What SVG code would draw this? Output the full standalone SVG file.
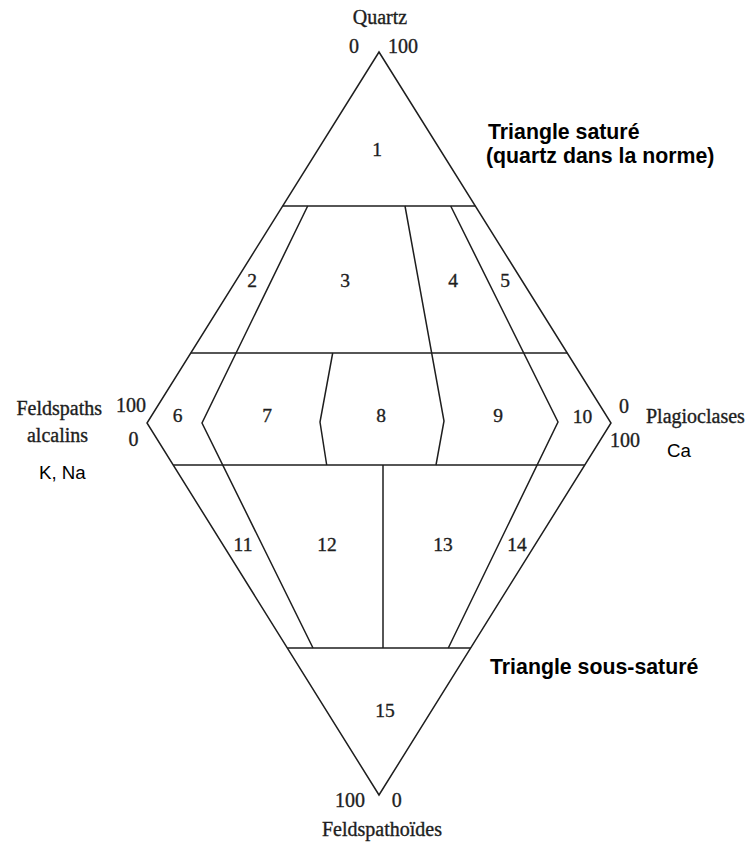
<svg xmlns="http://www.w3.org/2000/svg" width="749" height="844" viewBox="0 0 749 844">
<style>
.ln{fill:none;stroke:#1e1e1e;stroke-width:1.5;stroke-linejoin:miter}
.sr{font-family:"Liberation Serif","Times New Roman",serif;font-size:20px;fill:#1e1e1e;stroke:#1e1e1e;stroke-width:0.35}
.num{font-family:"Liberation Serif","Times New Roman",serif;font-size:19.5px;fill:#1e1e1e;stroke:#1e1e1e;stroke-width:0.35;text-anchor:middle}
.bd{font-family:"Liberation Sans",Arial,sans-serif;font-size:21.3px;font-weight:bold;fill:#000}
.sn{font-family:"Liberation Sans",Arial,sans-serif;font-size:18.7px;fill:#000}
</style>
<rect width="749" height="844" fill="#fff"/>
<g id="connectors">
<polygon class="ln" points="379,52 611,423 379,795 147,423"/>
<line class="ln" x1="282.7" y1="206" x2="475.3" y2="206"/>
<line class="ln" x1="190.8" y1="353" x2="567.2" y2="353"/>
<line class="ln" x1="173.2" y1="465" x2="584.8" y2="465"/>
<line class="ln" x1="287.3" y1="648" x2="470.7" y2="648"/>
<polyline class="ln" points="307.7,206 202,423 313,648"/>
<polyline class="ln" points="450.7,206 558,422 448.3,648"/>
<polyline class="ln" points="405,206 444,421 436,465"/>
<polyline class="ln" points="332.7,353 320,422 326.7,465"/>
<line class="ln" x1="383" y1="465" x2="383" y2="648"/>
</g>
<g id="field-1"><text class="num" x="377" y="156">1</text></g>
<g id="field-2"><text class="num" x="252" y="287">2</text></g>
<g id="field-3"><text class="num" x="345" y="287">3</text></g>
<g id="field-4"><text class="num" x="453" y="287">4</text></g>
<g id="field-5"><text class="num" x="505" y="287">5</text></g>
<g id="field-6"><text class="num" x="177.5" y="422">6</text></g>
<g id="field-7"><text class="num" x="267" y="422">7</text></g>
<g id="field-8"><text class="num" x="381" y="422">8</text></g>
<g id="field-9"><text class="num" x="498" y="422">9</text></g>
<g id="field-10"><text class="num" x="582.5" y="423">10</text></g>
<g id="field-11"><text class="num" x="243" y="551">11</text></g>
<g id="field-12"><text class="num" x="327" y="551">12</text></g>
<g id="field-13"><text class="num" x="443" y="551">13</text></g>
<g id="field-14"><text class="num" x="517" y="551">14</text></g>
<g id="field-15"><text class="num" x="385" y="717">15</text></g>
<g id="pole-quartz">
<text class="sr" x="380" y="24" text-anchor="middle">Quartz</text>
<text class="sr" x="354" y="53" text-anchor="middle">0</text>
<text class="sr" x="388" y="53">100</text>
</g>
<g id="pole-feldspaths">
<text class="sr" x="102" y="415" text-anchor="end">Feldspaths</text>
<text class="sr" x="146" y="412" text-anchor="end">100</text>
<text class="sr" x="57.5" y="442" text-anchor="middle">alcalins</text>
<text class="sr" x="133.5" y="446" text-anchor="middle">0</text>
<text class="sn" x="39" y="479">K, Na</text>
</g>
<g id="pole-plagioclases">
<text class="sr" x="624" y="413" text-anchor="middle">0</text>
<text class="sr" x="646" y="423">Plagioclases</text>
<text class="sr" x="610" y="447">100</text>
<text class="sn" x="667" y="457">Ca</text>
</g>
<g id="pole-feldspathoides">
<text class="sr" x="365" y="807" text-anchor="end">100</text>
<text class="sr" x="396.7" y="807" text-anchor="middle">0</text>
<text class="sr" x="382" y="836" text-anchor="middle">Feldspathoïdes</text>
</g>
<g id="annotations">
<text class="bd" x="488" y="139">Triangle saturé</text>
<text class="bd" x="486" y="163">(quartz dans la norme)</text>
<text class="bd" x="490" y="674">Triangle sous-saturé</text>
</g>
</svg>
